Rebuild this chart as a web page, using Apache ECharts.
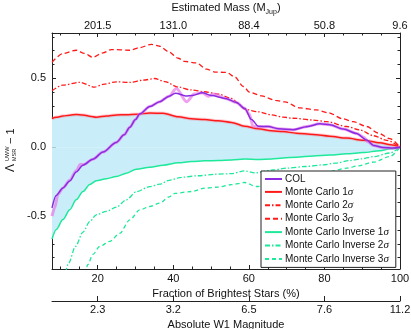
<!DOCTYPE html>
<html><head><meta charset="utf-8">
<script src="https://cdn.jsdelivr.net/npm/echarts@6/dist/echarts.min.js"></script>
<style>html,body{margin:0;padding:0;background:#fff}#c{width:411px;height:329px}</style>
</head><body><div id="c"></div>
<script>
// ---- axis ranges / ticks ----
const XMIN = 7.9, XMAX = 100, YMIN = -0.883, YMAX = 0.828;
const fracTicks = [20, 40, 60, 80, 100];
const fracLabels = ['20', '40', '60', '80', '100'];
const massLabels = ['201.5', '131.0', '88.4', '50.8', '9.6'];
const magLabels = ['2.3', '3.2', '6.5', '7.6', '11.2'];
const xMinor = [10, 15, 25, 30, 35, 45, 50, 55, 65, 70, 75, 85, 90, 95];
const yMajor = [-0.5, 0, 0.5];
const yMinor = [-0.8, -0.7, -0.6, -0.4, -0.3, -0.2, -0.1, 0.1, 0.2, 0.3, 0.4, 0.6, 0.7, 0.8];

// ---- 1 sigma curves (shared x grid) ----
const band1X = [7.9, 9, 10.8, 12.6, 14.3, 16.1, 17.9, 19.6, 22.3, 24.9, 27.6, 30.2, 33.8, 37.3, 41.3, 44.8, 48.3, 51.9, 55.4, 58.9, 62.5, 66, 69.1, 72.6, 77, 81.4, 85.9, 90.3, 94.7, 97.5, 100];
const mc1 = [0.207, 0.217, 0.226, 0.232, 0.237, 0.234, 0.225, 0.218, 0.226, 0.234, 0.236, 0.239, 0.248, 0.246, 0.22, 0.207, 0.2, 0.192, 0.18, 0.152, 0.133, 0.12, 0.113, 0.102, 0.092, 0.08, 0.066, 0.05, 0.032, 0.017, 0.0];
const inv1 = [-0.665, -0.598, -0.525, -0.453, -0.381, -0.321, -0.27, -0.243, -0.228, -0.213, -0.188, -0.16, -0.145, -0.13, -0.113, -0.104, -0.099, -0.096, -0.092, -0.086, -0.09, -0.086, -0.079, -0.072, -0.063, -0.056, -0.048, -0.039, -0.025, -0.012, 0.0];

// ---- other curves: [fraction %, value] ----
const mc2 = [[7.9,0.41],[10.8,0.45],[15.2,0.47],[19.2,0.436],[21.4,0.455],[24.9,0.474],[28.5,0.47],[32.0,0.486],[35.1,0.498],[37.7,0.476],[41.3,0.436],[44.8,0.415],[48.3,0.402],[51.9,0.385],[55.4,0.354],[57.5,0.31],[58.9,0.275],[62.5,0.257],[66.0,0.235],[69.1,0.218],[71.7,0.21],[77.0,0.197],[80.6,0.185],[85.9,0.15],[89.4,0.125],[93.0,0.083],[96.5,0.05],[100,0.0]];
const mc3 = [[7.9,0.615],[10.8,0.679],[14.3,0.703],[16.5,0.68],[18.7,0.652],[21.4,0.684],[23.6,0.708],[28.5,0.703],[31.1,0.722],[34.2,0.746],[36.4,0.732],[38.6,0.695],[41.3,0.645],[43.0,0.622],[46.1,0.611],[48.8,0.566],[51.0,0.545],[54.1,0.542],[56.3,0.51],[58.5,0.44],[60.3,0.397],[63.4,0.372],[67.0,0.34],[69.5,0.328],[73.5,0.285],[77.9,0.27],[81.0,0.25],[85.0,0.205],[87.6,0.185],[91.2,0.15],[94.2,0.103],[97.3,0.062],[100,0.0]];
const inv2 = [[11.5,-0.91],[12.3,-0.84],[14.1,-0.72],[16.1,-0.615],[17.9,-0.54],[19.6,-0.49],[22.3,-0.465],[24.9,-0.435],[27.6,-0.381],[30.2,-0.323],[33.8,-0.286],[36.4,-0.268],[38.9,-0.24],[42.2,-0.218],[46.6,-0.207],[51.0,-0.196],[55.4,-0.192],[58.9,-0.172],[61.6,-0.186],[66.4,-0.165],[70,-0.152],[75,-0.14],[79.7,-0.128],[83,-0.115],[86.7,-0.097],[90,-0.084],[93,-0.068],[97.3,-0.042],[100,0.0]];
const inv3 = [[16.7,-0.92],[17.4,-0.85],[18.7,-0.778],[20.5,-0.72],[23.2,-0.682],[25.8,-0.625],[28.5,-0.527],[31.1,-0.455],[33.8,-0.43],[36.4,-0.405],[38.9,-0.36],[40.4,-0.335],[44.8,-0.321],[48.3,-0.297],[51.9,-0.289],[55.4,-0.272],[58.9,-0.256],[62.0,-0.285],[66,-0.27],[70,-0.245],[75,-0.215],[80,-0.185],[85.9,-0.152],[89,-0.135],[93.0,-0.108],[97.3,-0.068],[100,0.0]];
const col = [[7.9,-0.44],[9.0,-0.35],[10.8,-0.295],[12.6,-0.245],[14.3,-0.18],[16.1,-0.13],[18.7,-0.087],[21.4,-0.035],[24.9,0.035],[27,0.09],[28.5,0.145],[30,0.2],[31.1,0.24],[33.8,0.295],[36.4,0.33],[38.9,0.37],[40.6,0.392],[43.3,0.372],[45,0.375],[47.7,0.395],[50.1,0.375],[53.8,0.354],[56.7,0.325],[58.9,0.28],[60.7,0.2],[62.5,0.152],[65.1,0.15],[67.8,0.134],[71.7,0.127],[75.3,0.149],[78.8,0.17],[81.4,0.163],[85.0,0.132],[88.5,0.1],[91.2,0.052],[93.0,0.013],[95.6,-0.002],[98.2,-0.006],[100,0.0]];
const colRaw = [[7.9,-0.5],[8.6,-0.44],[9.5,-0.34],[10.8,-0.295],[12.6,-0.24],[14.3,-0.17],[15.4,-0.125],[16.3,-0.125],[18.7,-0.087],[21.4,-0.035],[24.9,0.035],[27,0.09],[28.5,0.145],[30,0.2],[31.1,0.24],[33.8,0.295],[36.4,0.33],[38.9,0.37],[40.8,0.426],[43.5,0.33],[45.6,0.385],[47.7,0.395],[49.2,0.37],[50.8,0.385],[53.8,0.354],[56.7,0.325],[58.9,0.282],[60.1,0.24],[61.1,0.152],[62.5,0.148],[65.1,0.15],[67.8,0.134],[71.7,0.127],[75.3,0.15],[78.8,0.17],[81.4,0.163],[85.0,0.132],[88.5,0.1],[90.5,0.07],[91.5,0.04],[93.0,0.012],[95.6,-0.004],[98.2,-0.008],[100,0.0]];

const FONT = 'Liberation Sans';
const RED = '#ff1a1a', GREEN = '#1ee89a', PURPLE = '#8a2be2', FILL = '#c9eefa';
const zip = (xs, ys) => xs.map((x, i) => [x, ys[i]]);

function lineS(name, data, color, width, type, z) {
  return { name, type: 'line', data, symbol: 'none', smooth: 0.3, smoothMonotone: 'x', clip: true, z,
    lineStyle: { color, width, type }, itemStyle: { color }, emphasis: { disabled: true }, silent: true };
}
function fillS(name, data) {
  // area between the curve and zero (red 1σ is >= 0, inverse 1σ is <= 0)
  return { name, type: 'line', data, symbol: 'none', smooth: 0.3, smoothMonotone: 'x', clip: true, z: 1,
    lineStyle: { width: 0, opacity: 0 }, areaStyle: { color: FILL, opacity: 1, origin: 0 }, emphasis: { disabled: true }, silent: true };
}
function xAx(o) {
  return Object.assign({ type: 'value', min: XMIN, max: XMAX, gridIndex: 0, splitLine: { show: false },
    axisLine: { show: true, onZero: false, lineStyle: { color: '#222', width: 1 } } }, o);
}
function yAx(o) {
  return Object.assign({ type: 'value', min: YMIN, max: YMAX, gridIndex: 0, splitLine: { show: false },
    axisLine: { show: true, onZero: false, lineStyle: { color: '#222', width: 1 } } }, o);
}
const lbl = (arr) => (v) => { const i = fracTicks.indexOf(Math.round(v)); return i >= 0 ? arr[i] : ''; };
const txt = { fontFamily: FONT, fontSize: 11, color: '#111' };

const option = {
  animation: false,
  backgroundColor: '#fff',
  grid: { left: 52, right: 11, top: 33, bottom: 60, containLabel: false, outerBoundsMode: 'none' },
  xAxis: [
    xAx({ position: 'bottom', axisTick: { inside: true, length: 4, customValues: fracTicks, lineStyle: { color: '#222' } },
      axisLabel: Object.assign({ customValues: fracTicks, margin: 4, formatter: lbl(fracLabels) }, txt),
      name: 'Fraction of Brightest Stars (%)', nameLocation: 'middle', nameGap: 14.5, nameTextStyle: txt }),
    xAx({ position: 'bottom', axisLine: { show: false, onZero: false }, axisLabel: { show: false },
      axisTick: { inside: true, length: 2.5, customValues: xMinor, lineStyle: { color: '#222' } } }),
    xAx({ position: 'top', axisTick: { inside: true, length: 4, customValues: fracTicks, lineStyle: { color: '#222' } },
      axisLabel: Object.assign({ customValues: fracTicks, margin: 2, formatter: lbl(massLabels) }, txt),
      name: '{a|Estimated Mass (M}{s|Jup}{a|)}', nameLocation: 'middle', nameGap: 11,
      nameTextStyle: { rich: { a: { fontFamily: FONT, fontSize: 11, color: '#111', verticalAlign: 'bottom', padding: [0, 0, 2, 0] },
        s: { fontFamily: FONT, fontSize: 7, color: '#111', verticalAlign: 'bottom' } } } }),
    xAx({ position: 'top', axisLine: { show: false, onZero: false }, axisLabel: { show: false },
      axisTick: { inside: true, length: 2.5, customValues: xMinor, lineStyle: { color: '#222' } } }),
    xAx({ position: 'bottom', offset: 32, axisTick: { inside: true, length: 5, customValues: fracTicks, lineStyle: { color: '#222' } },
      axisLabel: Object.assign({ customValues: fracTicks, margin: 3, formatter: lbl(magLabels) }, txt),
      name: 'Absolute W1 Magnitude', nameLocation: 'middle', nameGap: 14.5, nameTextStyle: txt })
  ],
  yAxis: [
    yAx({ position: 'left', axisTick: { inside: true, length: 4, customValues: yMajor, lineStyle: { color: '#222' } },
      axisLabel: Object.assign({ customValues: yMajor, margin: 6, formatter: (v) => v.toFixed(1) }, txt) }),
    yAx({ position: 'left', axisLine: { show: false, onZero: false }, axisLabel: { show: false },
      axisTick: { inside: true, length: 2.5, customValues: yMinor, lineStyle: { color: '#222' } } }),
    yAx({ position: 'right', axisLabel: { show: false },
      axisTick: { inside: true, length: 4, customValues: yMajor, lineStyle: { color: '#222' } } }),
    yAx({ position: 'right', axisLine: { show: false, onZero: false }, axisLabel: { show: false },
      axisTick: { inside: true, length: 2.5, customValues: yMinor, lineStyle: { color: '#222' } } })
  ],
  legend: {
    data: ['COL', 'Monte Carlo 1σ', 'Monte Carlo 2σ', 'Monte Carlo 3σ', 'Monte Carlo Inverse 1σ', 'Monte Carlo Inverse 2σ', 'Monte Carlo Inverse 3σ'],
    orient: 'vertical', left: 261, top: 171, itemWidth: 17, itemHeight: 10, itemGap: 2.4,
    padding: [3, 7, 3, 3], backgroundColor: '#fff', borderColor: '#222', borderWidth: 1, borderRadius: 0,
    selectedMode: false,
    itemStyle: { opacity: 0 },
    formatter: (n) => n.endsWith('σ') ? '{n|' + n.slice(0, -1) + '}{i|σ}' : '{n|' + n + '}',
    textStyle: { fontFamily: FONT, fontSize: 10, color: '#111', padding: [0, 0, 0, -2],
      rich: { n: { fontFamily: FONT, fontSize: 10, color: '#111' }, i: { fontFamily: 'Liberation Serif', fontStyle: 'italic', fontSize: 11, color: '#111' } } }
  },
  graphic: [{
    type: 'group', x: 15, y: 172, rotation: Math.PI / 2, silent: true,
    children: [
      { type: 'text', x: 0, y: -4, style: { text: 'Λ', fontFamily: FONT, fontSize: 12, fill: '#111', align: 'left', verticalAlign: 'middle' } },
      { type: 'text', x: 11, y: -8, style: { text: 'UWW', fontFamily: FONT, fontSize: 5.5, fill: '#111', align: 'left', verticalAlign: 'middle' } },
      { type: 'text', x: 11, y: -1, style: { text: 'MSR', fontFamily: FONT, fontSize: 5.5, fill: '#111', align: 'left', verticalAlign: 'middle' } },
      { type: 'text', x: 28, y: -4, style: { text: '− 1', fontFamily: FONT, fontSize: 11, fill: '#111', align: 'left', verticalAlign: 'middle' } }
    ]
  }],
  series: [
    fillS('fill upper', zip(band1X, mc1)),
    fillS('fill lower', zip(band1X, inv1)),
    lineS('Monte Carlo Inverse 3σ', inv3, GREEN, 1.3, [4, 3], 3),
    lineS('Monte Carlo Inverse 2σ', inv2, GREEN, 1.3, [5, 2, 1.5, 2], 3),
    lineS('Monte Carlo Inverse 1σ', zip(band1X, inv1), GREEN, 1.5, 'solid', 3),
    lineS('mc1 halo', zip(band1X, mc1), 'rgba(255,110,130,0.3)', 3.5, 'solid', 3),
    lineS('Monte Carlo 3σ', mc3, RED, 1.3, [5, 3], 4),
    lineS('Monte Carlo 2σ', mc2, RED, 1.3, [5, 2, 1.5, 2], 4),
    lineS('Monte Carlo 1σ', zip(band1X, mc1), RED, 1.5, 'solid', 4),
    lineS('COL raw', colRaw, 'rgba(230,110,230,0.65)', 3, 'solid', 5),
    lineS('COL', col, PURPLE, 1.5, 'solid', 6)
  ]
};
const chart = echarts.init(document.getElementById('c'), null, { renderer: 'canvas' });
chart.setOption(option);
</script></body></html>
